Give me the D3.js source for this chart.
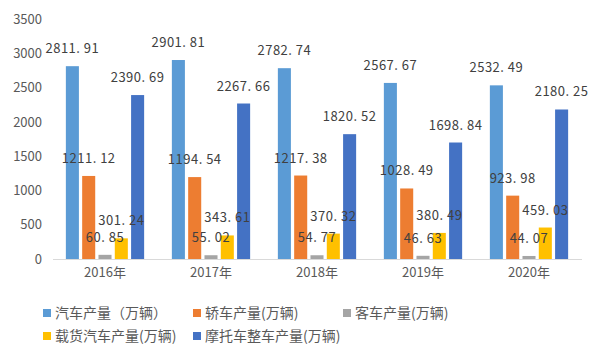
<!DOCTYPE html>
<html><head><meta charset="utf-8">
<script src="https://cdn.jsdelivr.net/npm/d3@7/dist/d3.min.js"></script>
<style>body{margin:0;background:#fff}svg{display:block}</style>
</head><body>
<svg id="c" width="600" height="360"></svg>
<script>
const categories = ["2016年","2017年","2018年","2019年","2020年"];
const seriesNames = ["汽车产量（万辆）","轿车产量(万辆)","客车产量(万辆)","载货汽车产量(万辆)","摩托车整车产量(万辆)"];
const carValues = [2811.91, 2901.81, 2782.74, 2567.67, 2532.49];
const sedanValues = [1211.12, 1194.54, 1217.38, 1028.49, 923.98];
const busValues = [60.85, 55.02, 54.77, 46.63, 44.07];
const truckValues = [301.24, 343.61, 370.32, 380.49, 459.03];
const motoValues = [2390.69, 2267.66, 1820.52, 1698.84, 2180.25];
const yTicks = [0, 500, 1000, 1500, 2000, 2500, 3000, 3500];
const colors = ["#5B9BD5", "#ED7D31", "#A5A5A5", "#FFC000", "#4472C4"];

const series = [carValues, sedanValues, busValues, truckValues, motoValues];
const svg = d3.select("#c");
const font = "'Noto Sans CJK SC', 'Noto Sans', sans-serif";

const x = d3.scaleBand().domain(categories).range([52, 582]).paddingInner(0).paddingOuter(0);
const y = d3.scaleLinear().domain([0, 3500]).range([259, 19]);
const xs = d3.scaleBand().domain(d3.range(5)).range([0, x.bandwidth()]).paddingInner(0.2).paddingOuter(0.85);

// y axis labels
const yAxis = d3.axisLeft(y).tickValues(yTicks).tickFormat(d3.format("d")).tickSize(0).tickPadding(6);
const gy = svg.append("g").attr("transform", "translate(48,0)").call(yAxis);
gy.select(".domain").remove();
gy.selectAll("text").attr("font-family", font).attr("font-size", 13).attr("fill", "#595959");

// x axis
const xAxis = d3.axisBottom(x).tickSize(0).tickPadding(9);
const gx = svg.append("g").attr("transform", "translate(0,259)").call(xAxis);
gx.select(".domain").attr("stroke", "#d9d9d9").attr("d", "M53,0.5H582");
gx.selectAll("text").attr("font-family", font).attr("font-size", 13).attr("fill", "#595959");

// bars
series.forEach((vals, si) => {
  const g = svg.append("g");
  g.selectAll("rect").data(vals).join("rect")
    .attr("x", (d, i) => x(categories[i]) + xs(si))
    .attr("y", d => y(d))
    .attr("width", xs.bandwidth())
    .attr("height", d => y(0) - y(d))
    .attr("fill", colors[si]);
});
// labels
series.forEach((vals, si) => {
  svg.append("g").selectAll("text").data(vals).join("text")
    .attr("x", (d, i) => x(categories[i]) + xs(si) + xs.bandwidth() / 2)
    .attr("y", d => y(d) - 13)
    .attr("text-anchor", "middle")
    .attr("font-family", font).attr("font-size", 13)
    .attr("letter-spacing", 0.5)
    .attr("fill", "#404040")
    .text(d => d.toFixed(2).replace(".", ". "));
});

// legend
const legendPos = [[43, 313], [193, 313], [343, 313], [43, 336], [193, 336]];
seriesNames.forEach((n, i) => {
  const [lx, ly] = legendPos[i];
  svg.append("rect").attr("x", lx).attr("y", ly - 4).attr("width", 8).attr("height", 8).attr("fill", colors[i]);
  svg.append("text").attr("x", lx + 12).attr("y", ly + 5)
    .attr("font-family", font).attr("font-size", 14).attr("fill", "#595959").text(n);
});
</script>
</body></html>
